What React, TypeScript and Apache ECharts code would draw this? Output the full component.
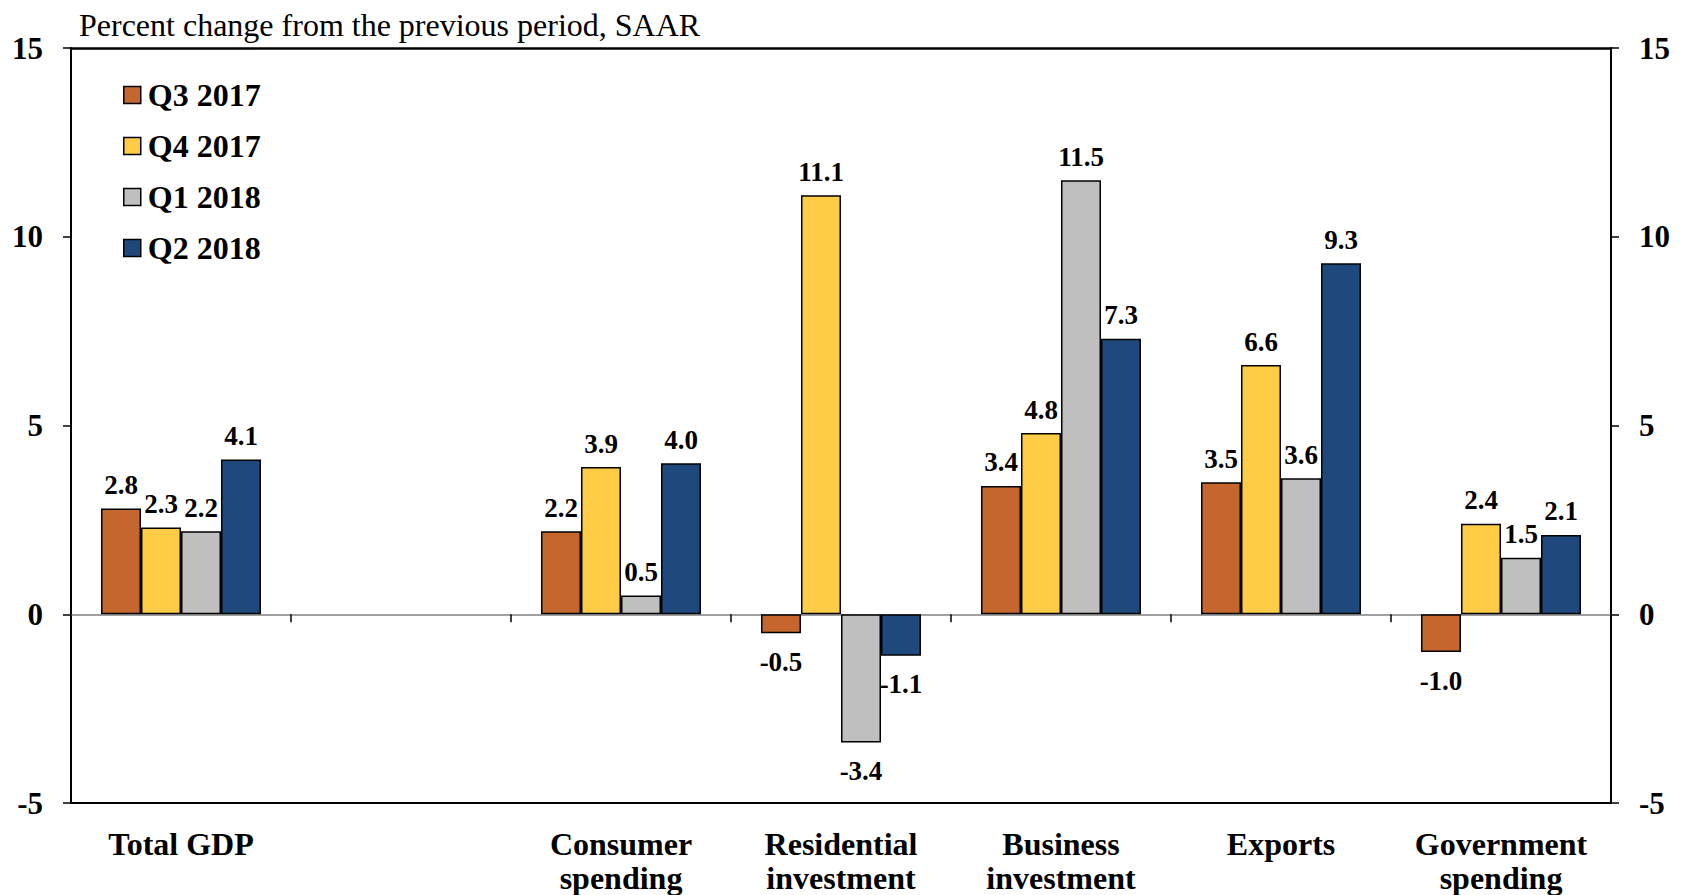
import React, { useEffect, useRef } from "react";
import * as echarts from "echarts";

const categories = [
  "Total GDP",
  "",
  "Consumer\nspending",
  "Residential\ninvestment",
  "Business\ninvestment",
  "Exports",
  "Government\nspending",
];
const seriesNames = ["Q3 2017", "Q4 2017", "Q1 2018", "Q2 2018"];
const q3_2017 = [2.8, null, 2.2, -0.5, 3.4, 3.5, -1.0];
const q4_2017 = [2.3, null, 3.9, 11.1, 4.8, 6.6, 2.4];
const q1_2018 = [2.2, null, 0.5, -3.4, 11.5, 3.6, 1.5];
const q2_2018 = [4.1, null, 4.0, -1.1, 7.3, 9.3, 2.1];
const colors = ["#C5662E", "#FFCC47", "#BFBFBF", "#1F497D"];
const yTicks = { min: -5, max: 15, interval: 5 };
const titleText = "Percent change from the previous period, SAAR";

const FONT = '"Times New Roman", "Liberation Serif", serif';

export default function App() {
  const ref = useRef<HTMLDivElement>(null);
  useEffect(() => {
    if (!ref.current) return;
    const chart = echarts.init(ref.current, undefined, { renderer: "svg" });
    const allSeries = [q3_2017, q4_2017, q1_2018, q2_2018];
    const series = allSeries.map((vals, i) => ({
      name: seriesNames[i],
      type: "bar",
      xAxisIndex: 0,
      yAxisIndex: 0,
      barWidth: 40,
      barGap: "0%",
      itemStyle: { color: colors[i], borderColor: "#000", borderWidth: 1.5 },
      label: {
        show: true,
        position: "top",
        distance: 10,
        fontFamily: FONT,
        fontWeight: "bold",
        fontSize: 27,
        color: "#000",
        formatter: (p: any) => (p.value == null ? "" : Number(p.value).toFixed(1)),
      },
      data: vals.map((v) =>
        v == null
          ? null
          : v < 0
          ? { value: v, label: { position: "bottom", distance: 15 } }
          : { value: v }
      ),
    }));
    const valueAxisCommon = {
      type: "value",
      min: yTicks.min,
      max: yTicks.max,
      interval: yTicks.interval,
      splitLine: { show: false },
      axisLine: { show: true, lineStyle: { color: "#000", width: 2 } },
      axisTick: { show: true, length: 8, lineStyle: { color: "#000", width: 1.5 } },
      axisLabel: {
        fontFamily: FONT,
        fontWeight: "bold",
        fontSize: 31,
        color: "#000",
        margin: 28,
      },
    };
    chart.setOption({
      animation: false,
      title: {
        text: titleText,
        left: 74,
        top: 4,
        textStyle: { fontFamily: FONT, fontWeight: "normal", fontSize: 32, color: "#000" },
      },
      legend: {
        orient: "vertical",
        left: 118,
        top: 74,
        itemWidth: 17,
        itemHeight: 17,
        itemGap: 19,
        icon: "rect",
        itemStyle: { borderColor: "#000", borderWidth: 1.5 },
        textStyle: {
          fontFamily: FONT,
          fontWeight: "bold",
          fontSize: 32,
          lineHeight: 31,
          color: "#000",
          padding: [0, 0, 0, 2],
        },
        data: seriesNames,
      },
      grid: { left: 71, right: 74, top: 48, bottom: 90 },
      xAxis: [
        {
          type: "category",
          data: categories,
          position: "bottom",
          axisLine: { show: true, onZero: false, lineStyle: { color: "#000", width: 2 } },
          axisTick: { show: false },
          axisLabel: {
            interval: 0,
            fontFamily: FONT,
            fontWeight: "bold",
            fontSize: 32,
            lineHeight: 34,
            color: "#000",
            margin: 24,
          },
        },
        {
          type: "category",
          data: categories,
          position: "bottom",
          axisLine: { show: true, onZero: true, onZeroAxisIndex: 0, lineStyle: { color: "#808080", width: 1.5 } },
          axisTick: { show: true, length: 8, lineStyle: { color: "#000", width: 1.5 } },
          axisLabel: { show: false },
        },
        {
          type: "category",
          data: categories,
          position: "top",
          axisLine: { show: true, onZero: false, lineStyle: { color: "#000", width: 2.5 } },
          axisTick: { show: false },
          axisLabel: { show: false },
        },
      ],
      yAxis: [
        { ...valueAxisCommon, position: "left" },
        { ...valueAxisCommon, position: "right" },
      ],
      series,
    });
    return () => chart.dispose();
  }, []);
  return (
    <div
      ref={ref}
      style={{ position: "fixed", left: 0, top: 0, width: 1685, height: 895, background: "#fff" }}
    />
  );
}
